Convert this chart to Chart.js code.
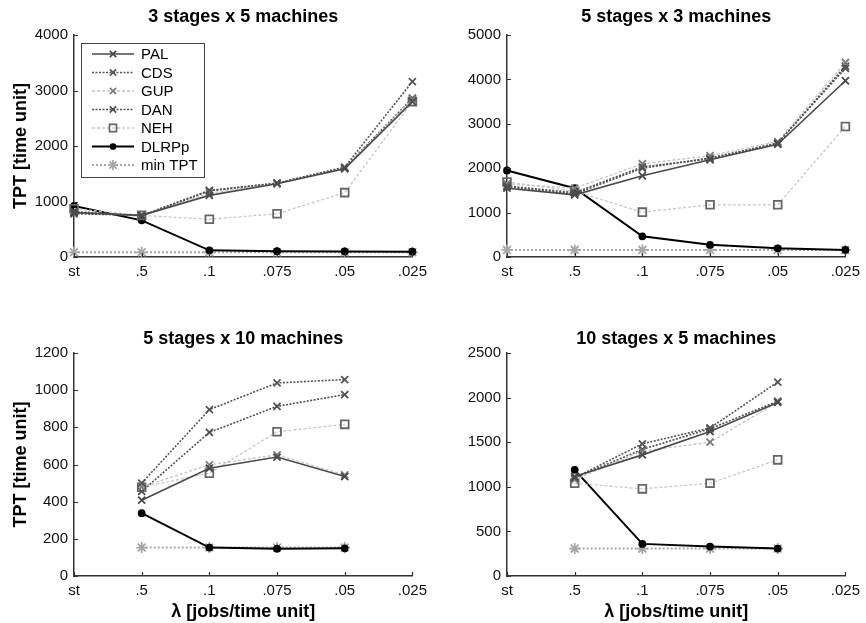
<!DOCTYPE html>
<html>
<head>
<meta charset="utf-8">
<script src="https://cdn.jsdelivr.net/npm/chart.js@4.4.1/dist/chart.umd.min.js"></script>
<style>
  body { margin: 0; background: #fff; }
  #fig { position: relative; width: 866px; height: 623px; overflow: hidden; }
  #fig canvas { position: absolute; }
</style>
</head>
<body>
<div id="fig">
  <canvas id="c1" width="433" height="311" style="left:0;top:0"></canvas>
  <canvas id="c2" width="433" height="311" style="left:433px;top:0"></canvas>
  <canvas id="c3" width="433" height="312" style="left:0;top:311px"></canvas>
  <canvas id="c4" width="433" height="312" style="left:433px;top:311px"></canvas>
</div>
<script>
// x categories (arrival rate) and method names
const lambdas = ['st', '.5', '.1', '.075', '.05', '.025'];
const methods = ['PAL', 'CDS', 'GUP', 'DAN', 'NEH', 'DLRPp', 'min TPT'];

// 3 stages x 5 machines
const pal3x5 = [800, 750, 1110, 1320, 1590, 2800];
const cds3x5 = [820, 740, 1190, 1330, 1620, 3160];
const gup3x5 = [800, 760, 1150, 1330, 1600, 2850];
const dan3x5 = [780, 750, 1200, 1330, 1610, 2860];
const neh3x5 = [870, 750, 680, 780, 1160, 2800];
const dlr3x5 = [920, 660, 120, 105, 100, 95];
const min3x5 = [85, 85, 85, 85, 85, 85];

// 5 stages x 3 machines
const pal5x3 = [1550, 1400, 1830, 2190, 2540, 3970];
const cds5x3 = [1600, 1450, 2030, 2210, 2570, 4250];
const gup5x3 = [1650, 1550, 2100, 2280, 2600, 4380];
const dan5x3 = [1580, 1420, 2000, 2230, 2560, 4300];
const neh5x3 = [1690, 1480, 1010, 1175, 1175, 2940];
const dlr5x3 = [1950, 1550, 465, 275, 195, 160];
const min5x3 = [160, 160, 160, 160, 160, 160];

// 5 stages x 10 machines
const pal5x10 = [null, 408, 580, 640, 535, null];
const cds5x10 = [null, 500, 895, 1039, 1057, null];
const gup5x10 = [null, 480, 598, 652, 544, null];
const dan5x10 = [null, 455, 773, 913, 976, null];
const neh5x10 = [null, 478, 553, 776, 816, null];
const dlr5x10 = [null, 338, 153, 147, 149, null];
const min5x10 = [null, 153, 153, 153, 153, null];

// 10 stages x 5 machines
const pal10x5 = [null, 1115, 1358, 1620, 1946, null];
const cds10x5 = [null, 1100, 1482, 1660, 2174, null];
const gup10x5 = [null, 1080, 1400, 1500, 1950, null];
const dan10x5 = [null, 1100, 1420, 1650, 1960, null];
const neh10x5 = [null, 1040, 977, 1040, 1302, null];
const dlr10x5 = [null, 1190, 360, 330, 307, null];
const min10x5 = [null, 307, 307, 307, 307, null];

const FONT = "'Liberation Sans', Arial, sans-serif";

// line / marker look of each method, same order as methods
const styles = [
    { line: '#4a4a4a', dash: [], width: 1.6, point: 'crossRot', pc: '#4a4a4a', r: 5, fill: false },
    { line: '#555555', dash: [2, 1.5], width: 1.6, point: 'crossRot', pc: '#555555', r: 5, fill: false },
    { line: '#c4c4c4', dash: [3, 2], width: 1.3, point: 'crossRot', pc: '#7a7a7a', r: 5, fill: false },
    { line: '#505050', dash: [2, 1.5], width: 1.6, point: 'crossRot', pc: '#505050', r: 5, fill: false },
    { line: '#c8c8c8', dash: [3, 2], width: 1.3, point: 'rect', pc: '#666666', r: 5.5, fill: false },
    { line: '#000000', dash: [], width: 2, point: 'circle', pc: '#000000', r: 3, fill: true },
    { line: '#a6a6a6', dash: [2, 2], width: 2, point: 'star', pc: '#a6a6a6', r: 5.5, fill: false },
];

function buildDatasets(series) {
    return series.map((vals, i) => {
        const s = styles[i];
        return {
            label: methods[i],
            data: vals,
            borderColor: s.line,
            borderDash: s.dash,
            borderWidth: s.width,
            pointStyle: s.point,
            pointRadius: s.r,
            pointBorderColor: s.pc,
            pointBackgroundColor: s.fill ? s.pc : 'transparent',
            pointBorderWidth: 1.8,
            fill: false,
            tension: 0,
            spanGaps: false,
        };
    });
}

// MATLAB style inward tick marks
const inwardTicks = {
    id: 'inwardTicks',
    afterDraw(chart) {
        const ctx = chart.ctx;
        const x = chart.scales.x, y = chart.scales.y;
        const a = chart.chartArea;
        ctx.save();
        ctx.strokeStyle = '#333';
        ctx.lineWidth = 1.2;
        ctx.beginPath();
        y.ticks.forEach(t => {
            const py = Math.round(y.getPixelForValue(t.value)) + 0.5;
            ctx.moveTo(a.left, py);
            ctx.lineTo(a.left + 4, py);
        });
        x.ticks.forEach((t, i) => {
            const px = Math.round(x.getPixelForTick(i)) + 0.5;
            ctx.moveTo(px, a.bottom);
            ctx.lineTo(px, a.bottom - 4);
        });
        ctx.stroke();
        ctx.restore();
    },
};

// legend box drawn inside the first panel
const boxLegend = {
    id: 'boxLegend',
    afterDraw(chart, args, opts) {
        if (!opts.show) return;
        const ctx = chart.ctx;
        const left = 81, top = 43, w = 123, h = 134, row = 18.5;
        ctx.save();
        ctx.fillStyle = '#fff';
        ctx.fillRect(left, top, w, h);
        ctx.strokeStyle = '#444';
        ctx.lineWidth = 1;
        ctx.strokeRect(left + 0.5, top + 0.5, w, h);
        methods.forEach((m, i) => {
            const s = styles[i];
            const yy = 54 + i * row;
            ctx.strokeStyle = s.line;
            ctx.lineWidth = s.width;
            ctx.setLineDash(s.dash);
            ctx.beginPath();
            ctx.moveTo(92, yy);
            ctx.lineTo(134, yy);
            ctx.stroke();
            ctx.setLineDash([]);
            ctx.strokeStyle = s.pc;
            ctx.fillStyle = s.fill ? s.pc : 'transparent';
            ctx.lineWidth = 1.7;
            Chart.helpers.drawPoint(ctx, { pointStyle: s.point, radius: s.r - 0.5, borderWidth: 1.7, rotation: 0 }, 113, yy);
            ctx.fillStyle = '#000';
            ctx.font = '15px ' + FONT;
            ctx.textBaseline = 'middle';
            ctx.fillText(m, 141, yy + 1);
        });
        ctx.restore();
    },
};

function makeChart(id, title, yMax, yStep, series, opt) {
    const low = opt.bottomRow;
    return new Chart(document.getElementById(id), {
        type: 'line',
        data: { labels: lambdas, datasets: buildDatasets(series) },
        options: {
            responsive: false,
            animation: false,
            layout: { padding: { left: 0, right: 16, top: 0, bottom: 0 } },
            plugins: {
                legend: { display: false },
                tooltip: { enabled: false },
                title: {
                    display: true,
                    fullSize: false,
                    text: title,
                    color: '#000',
                    font: { family: FONT, size: 18, weight: 'bold' },
                    padding: low ? { top: 17, bottom: 3.4 } : { top: 6, bottom: 7.4 },
                },
                boxLegend: { show: !!opt.legend },
            },
            scales: {
                x: {
                    offset: false,
                    grid: { display: false, drawTicks: false },
                    border: { display: true, color: '#333', width: 1.5 },
                    ticks: { color: '#111', padding: 6, font: { family: FONT, size: 15 }, maxRotation: 0, autoSkip: false },
                    title: {
                        display: !!opt.xTitle,
                        text: 'λ [jobs/time unit]',
                        color: '#000',
                        font: { family: FONT, size: 18, weight: 'bold' },
                        padding: { top: 0, bottom: 0 },
                    },
                    afterFit(s) { s.height = low ? 47 : 54; },
                },
                y: {
                    min: 0,
                    max: yMax,
                    grid: { display: false, drawTicks: false },
                    border: { display: true, color: '#333', width: 1.5 },
                    ticks: {
                        stepSize: yStep,
                        color: '#111',
                        padding: 6,
                        font: { family: FONT, size: 15 },
                        callback: v => String(v),
                    },
                    title: {
                        display: !!opt.yTitle,
                        text: 'TPT [time unit]',
                        color: '#000',
                        font: { family: FONT, size: 18, weight: 'bold' },
                        padding: { top: 10, bottom: 0 },
                    },
                    afterFit(s) { s.width = 74; },
                },
            },
        },
        plugins: [inwardTicks, boxLegend],
    });
}

makeChart('c1', '3 stages x 5 machines', 4000, 1000,
    [pal3x5, cds3x5, gup3x5, dan3x5, neh3x5, dlr3x5, min3x5], { yTitle: true, legend: true });
makeChart('c2', '5 stages x 3 machines', 5000, 1000,
    [pal5x3, cds5x3, gup5x3, dan5x3, neh5x3, dlr5x3, min5x3], {});
makeChart('c3', '5 stages x 10 machines', 1200, 200,
    [pal5x10, cds5x10, gup5x10, dan5x10, neh5x10, dlr5x10, min5x10], { yTitle: true, xTitle: true, bottomRow: true });
makeChart('c4', '10 stages x 5 machines', 2500, 500,
    [pal10x5, cds10x5, gup10x5, dan10x5, neh10x5, dlr10x5, min10x5], { xTitle: true, bottomRow: true });
</script>
</body>
</html>
